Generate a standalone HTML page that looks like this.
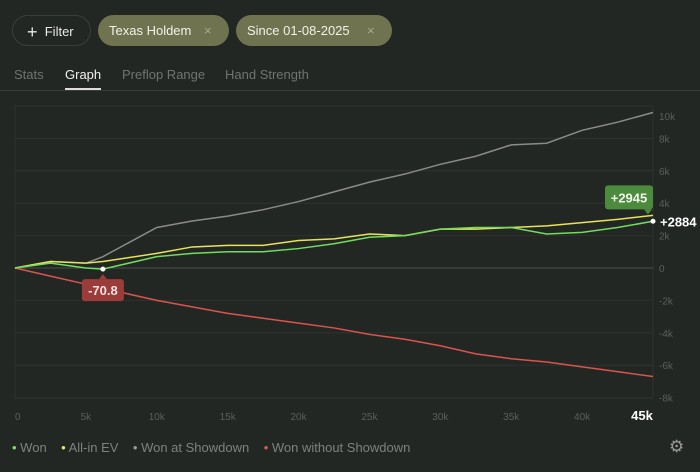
<!DOCTYPE html>
<html><head><meta charset="utf-8"><style>
body{margin:0;width:700px;height:472px;background:#232724;font-family:"Liberation Sans",sans-serif;overflow:hidden;position:relative;color:#ddd}
.chip{position:absolute;top:15px;height:31px;border-radius:16px;box-sizing:border-box;font-size:13px;line-height:31px;}
.tab{position:absolute;top:67px;font-size:13px;color:#6f746f}
</style></head><body>
<div class="chip" style="left:12px;width:79px;border:1px solid #3a3f3b;color:#e8e8e8;padding-left:14px"><span style="font-size:18px;vertical-align:-2px">+</span>&nbsp; Filter</div>
<div class="chip" style="left:98px;width:131px;background:#6f7350;color:#f2f2e8;padding-left:11px">Texas Holdem<span style="position:absolute;left:106px;color:#a9ab90">×</span></div>
<div class="chip" style="left:236px;width:156px;background:#6f7350;color:#f2f2e8;padding-left:11px">Since 01-08-2025<span style="position:absolute;left:131px;color:#a9ab90">×</span></div>
<div class="tab" style="left:14px">Stats</div>
<div class="tab" style="left:65px;color:#f0f0f0">Graph<div style="position:absolute;left:0;top:21px;width:36px;height:2px;background:#ddd"></div></div>
<div class="tab" style="left:122px">Preflop Range</div>
<div class="tab" style="left:225px">Hand Strength</div>
<div style="position:absolute;left:0;top:90px;width:700px;height:1px;background:#3a3e3b"></div>
<svg id="chart" width="700" height="472" style="position:absolute;left:0;top:0"></svg>
<div style="position:absolute;left:12px;top:440px;font-size:13px;color:#7d827d">
<span><span style="color:#7be36a">•</span> Won</span>&nbsp;&nbsp;&nbsp;
<span><span style="color:#e9e46a">•</span> All-in EV</span>&nbsp;&nbsp;&nbsp;
<span><span style="color:#999">•</span> Won at Showdown</span>&nbsp;&nbsp;&nbsp;
<span><span style="color:#e05a55">•</span> Won without Showdown</span></div>
<div style="position:absolute;left:669px;top:437px;font-size:17px;color:#999">⚙</div>
<script>
const hands=[0,2500,5000,6200,10000,12500,15000,17500,20000,22500,25000,27500,30000,32500,35000,37500,40000,42500,45000];
const won=[0,300,0,-71,700,900,1000,1000,1200,1500,1900,2000,2400,2500,2500,2100,2200,2500,2884];
const allin=[0,400,300,400,900,1300,1400,1400,1700,1800,2100,2000,2400,2400,2500,2600,2800,3000,3250];
const showdown=[0,400,300,700,2500,2900,3200,3600,4100,4700,5300,5800,6400,6900,7600,7700,8500,9000,9600];
const nonShowdown=[0,-500,-1000,-1250,-2000,-2400,-2800,-3100,-3400,-3700,-4100,-4400,-4800,-5300,-5600,-5800,-6100,-6400,-6700];
const yTicks=[10000,8000,6000,4000,2000,0,-2000,-4000,-6000,-8000];
const yLabels=["10k","8k","6k","4k","2k","0","-2k","-4k","-6k","-8k"];
const xTicks=[0,5000,10000,15000,20000,25000,30000,35000,40000,45000];
const xLabels=["0","5k","10k","15k","20k","25k","30k","35k","40k","45k"];
const X=v=>15+v/45000*638, Y=v=>268-v*0.0162;
const svg=document.getElementById('chart'),NS='http://www.w3.org/2000/svg';
function mk(t,a,p){const e=document.createElementNS(NS,t);for(const k in a)e.setAttribute(k,a[k]);(p||svg).appendChild(e);return e;}
mk('rect',{x:15,y:106,width:638,height:292,fill:'none',stroke:'#2e332f'});
yTicks.forEach((v,i)=>{const y=Y(v);
 const g=mk('line',{x1:15,x2:653,y1:y,y2:y,stroke:v===0?'#4a4f4b':'#2e332f'});
 
 const t=mk('text',{x:659,y:Math.max(y+4,120),fill:'#5a5f5a','font-size':10});t.textContent=yLabels[i];
 });
xTicks.forEach((v,i)=>{const last=i===xTicks.length-1;
 const t=mk('text',{x:X(v)+(last?-11:0),y:420,fill:last?'#fff':'#5a5f5a','font-size':last?13:10,'font-weight':last?'bold':'normal','text-anchor':i===0?'start':'middle'});t.textContent=xLabels[i];
 });
[[showdown,'#8a8a8a','line-won-at-showdown'],[nonShowdown,'#d9534f','line-won-without-showdown'],[allin,'#e6e35c','line-allin-ev'],[won,'#72dc5f','line-won']].forEach(([d,c,n])=>{
 const p=mk('polyline',{points:d.map((v,i)=>X(hands[i])+','+Y(v)).join(' '),fill:'none',stroke:c,'stroke-width':1.5});
 });
const mi=3,mx=X(hands[mi]),my=Y(won[mi]);
mk('circle',{cx:mx,cy:my,r:2.5,fill:'#fff'});
const tb=mk('rect',{x:mx-21,y:my+10,width:42,height:22,rx:3,fill:'#9a3c3a'});

mk('polygon',{points:`${mx-4},${my+10} ${mx+4},${my+10} ${mx},${my+5}`,fill:'#9a3c3a'});
const tt=mk('text',{x:mx,y:my+26,fill:'#f4e0e0','font-size':13,'font-weight':'bold','text-anchor':'middle'});tt.textContent='-70.8';
const ex=X(hands[18]),ey=Y(won[18]),ay=Y(allin[18]);
mk('circle',{cx:ex,cy:ey,r:2.5,fill:'#fff'});
const t2=mk('text',{x:660,y:ey+5,fill:'#fff','font-size':13,'font-weight':'bold'});t2.textContent='+2884';

const gb=mk('rect',{x:605,y:ay-30,width:48,height:24,rx:3,fill:'#4c8a3e'});

mk('polygon',{points:`644,${ay-6} 652,${ay-6} 648,${ay-1}`,fill:'#4c8a3e'});
const t3=mk('text',{x:629,y:ay-13,fill:'#f0f5ee','font-size':13,'font-weight':'bold','text-anchor':'middle'});t3.textContent='+2945';
</script>
</body></html>
